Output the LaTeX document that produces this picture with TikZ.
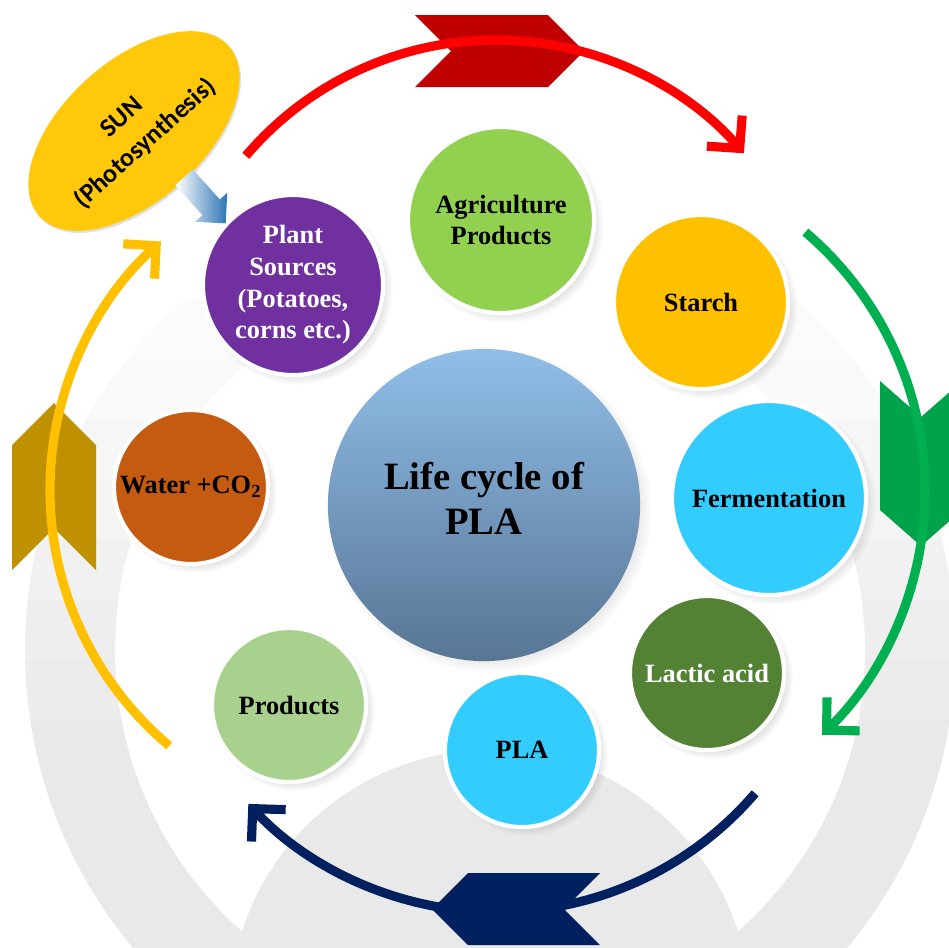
\documentclass[tikz,border=0pt]{standalone}
\usepackage{fontspec}
\setmainfont{Liberation Serif}
\newfontfamily\sunfont{Carlito}
\usetikzlibrary{arrows.meta,shapes.geometric,shapes.arrows,shadows}

\definecolor{plantpurple}{HTML}{7030A0}
\definecolor{agrigreen}{HTML}{92D050}
\definecolor{starchgold}{HTML}{FFC000}
\definecolor{skyblue}{HTML}{33CCFF}
\definecolor{lacticgreen}{HTML}{548235}
\definecolor{productgreen}{HTML}{A9D18E}
\definecolor{waterorange}{HTML}{C55A11}
\definecolor{hubtop}{HTML}{90BEE8}
\definecolor{hubbottom}{HTML}{587594}
\definecolor{sunyellow}{HTML}{FFC80A}
\definecolor{arcred}{HTML}{FF0000}
\definecolor{arcgreen}{HTML}{00B050}
\definecolor{arcnavy}{HTML}{002060}
\definecolor{arcgold}{HTML}{FFC000}
\definecolor{chevred}{HTML}{C00000}
\definecolor{chevgold}{HTML}{BF9000}
\definecolor{raytip}{HTML}{2E75B6}

\begin{document}
\begin{tikzpicture}[
    x=0.01cm, y=-0.01cm,
    stage/.style={circle, draw=white, line width=1.2pt, inner sep=0pt, align=center,
        font=\bfseries\fontsize{7.5}{9}\selectfont,
        circular drop shadow={shadow scale=1.05, opacity=0.3}},
    hub/.style={circle, inner sep=0pt, top color=hubtop, bottom color=hubbottom,
        circular drop shadow={shadow scale=1.04, opacity=0.3}},
    sunnode/.style={ellipse, fill=sunyellow, inner sep=0pt, align=center,
        minimum width=2.54cm, minimum height=1.4cm,
        font=\sunfont\bfseries\fontsize{7.4}{10}\selectfont,
        drop shadow={opacity=0.25, shadow xshift=0.4pt, shadow yshift=-0.6pt}},
    cyclearc/.style={line width=2.6pt, -{Straight Barb[length=6.6pt, width=13.3pt]}}
    ]

    % Frame
    \useasboundingbox[fill=white] (0,0) rectangle (949,947);

    % Faint watermark, fading out upwards
    \foreach \top/\bot/\shade in {300/360/1.5, 360/420/2.5, 420/480/3.5, 480/540/4.5, 540/600/5.5, 600/660/6.5, 660/720/7.5, 720/947/8.5} {
        \begin{scope}
            \clip (0,\top) rectangle (949,\bot);
            \fill[black!\shade, even odd rule] (490,650) circle[radius=465] (490,650) circle[radius=375];
            \fill[black!\shade] (490,1010) circle[radius=260];
        \end{scope}
    }

    % Chevrons on the cycle
    \fill[chevred] (415,15) -- (548,15) -- (584,51) -- (548,87) -- (415,87) -- (451,51) -- cycle;
    \fill[arcgreen!92!black] (880,381) -- (921,417) -- (962,381) -- (962,510) -- (921,546) -- (880,510) -- cycle;
    \fill[arcnavy] (600,873) -- (468,873) -- (432,909) -- (468,945) -- (600,945) -- (564,909) -- cycle;
    \fill[chevgold] (12,570) -- (12,445) -- (54,403) -- (96,445) -- (96,570) -- (54,528) -- cycle;

    % Centres of the cycle arcs
    \coordinate (redc) at (496,368);
    \coordinate (greenc) at (585,491);
    \coordinate (navyc) at (497,572);
    \coordinate (goldc) at (384,490);

    % Cycle arcs
    \draw[cyclearc, arcred] ([shift={(-139.7:328)}]redc) arc[start angle=-139.7, end angle=-40.9, radius=328];
    \draw[cyclearc, arcgreen] ([shift={(-49.6:340)}]greenc) arc[start angle=-49.6, end angle=45.8, radius=340];
    \draw[cyclearc, arcnavy] ([shift={(40.6:340)}]navyc) arc[start angle=40.6, end angle=137, radius=340];
    \draw[cyclearc, arcgold] ([shift={(130:334)}]goldc) arc[start angle=130, end angle=228.1, radius=334];

    % Centre
    \node[hub, minimum size=3.12cm,
        label={[align=center, font=\bfseries\fontsize{11}{12.8}\selectfont, yshift=2pt]center:Life cycle of\\PLA}]
        (life) at (484,505) {};

    % Stages
    \node[stage, fill=plantpurple, text=white, minimum size=1.8cm] (plant) at (293,285) {Plant\\Sources\\(Potatoes,\\corns etc.)};
    \node[stage, fill=agrigreen, minimum size=1.86cm] (agri) at (501,220) {Agriculture\\Products};
    \node[stage, fill=starchgold, minimum size=1.74cm] (starch) at (701,302) {Starch};
    \node[stage, fill=skyblue, minimum size=1.94cm] (ferment) at (769,498) {Fermentation};
    \node[stage, fill=lacticgreen, text=white, minimum size=1.54cm] (lactic) at (707,673) {Lactic acid};
    \node[stage, fill=skyblue, minimum size=1.54cm] (pla) at (522,750) {PLA};
    \node[stage, fill=productgreen, minimum size=1.54cm] (products) at (289,705) {Products};
    \node[stage, fill=waterorange, minimum size=1.54cm] (water) at (191,487) {Water +CO\textsubscript{2}};

    % Sun and its ray
    \node[sunnode, rotate=42] (sun) at (134,131) {SUN\\(Photosynthesis)};
    \node[single arrow, rotate=-48, inner sep=0.11cm, minimum height=0.62cm,
        single arrow head extend=0.1cm, left color=white, right color=raytip] (ray) at (201,196) {};

\end{tikzpicture}
\end{document}
